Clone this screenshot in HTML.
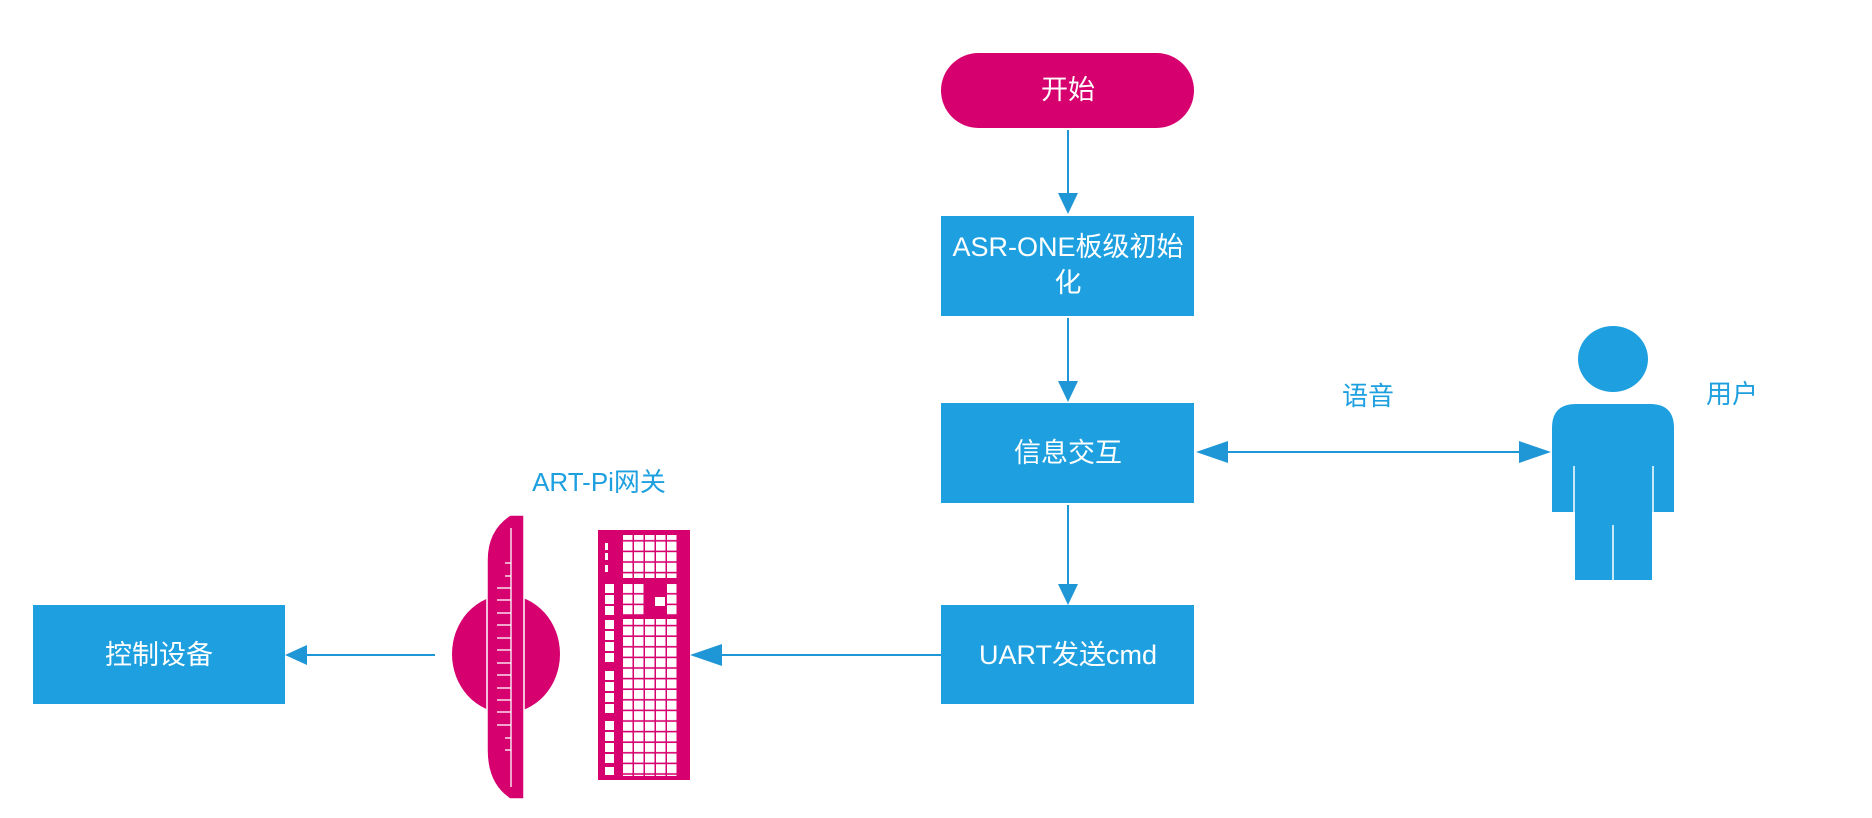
<!DOCTYPE html>
<html><head><meta charset="utf-8"><style>
html,body{margin:0;padding:0;background:#fff;}
body{width:1872px;height:818px;position:relative;overflow:hidden;font-family:"Liberation Sans","Noto Sans CJK SC",sans-serif;}
svg{position:absolute;left:0;top:0;}
text{font-family:"Liberation Sans","Noto Sans CJK SC",sans-serif;}
</style></head><body>
<svg width="1872" height="818" viewBox="0 0 1872 818">
<defs>
<pattern id="kg" x="622" y="0" width="11" height="10.6" patternUnits="userSpaceOnUse">
<rect x="0" y="0" width="11" height="10.6" fill="#d6006f"/>
<rect x="1" y="1" width="9.5" height="9" fill="#fff"/>
</pattern>
</defs>
<rect x="941" y="53" width="253" height="75" rx="37.5" fill="#d6006f"/>
<text x="1068" y="99" fill="#fff" font-size="27" text-anchor="middle">开始</text>
<rect x="941" y="216" width="253" height="100" fill="#1ea0e0"/>
<text x="1068" y="256" fill="#fff" font-size="27" text-anchor="middle">ASR-ONE板级初始</text>
<text x="1068" y="292" fill="#fff" font-size="27" text-anchor="middle">化</text>
<rect x="941" y="403" width="253" height="100" fill="#1ea0e0"/>
<text x="1068" y="462" fill="#fff" font-size="27" text-anchor="middle">信息交互</text>
<rect x="941" y="605" width="253" height="99" fill="#1ea0e0"/>
<text x="1068" y="664" fill="#fff" font-size="27" text-anchor="middle">UART发送cmd</text>
<rect x="33" y="605" width="252" height="99" fill="#1ea0e0"/>
<text x="159" y="664" fill="#fff" font-size="27" text-anchor="middle">控制设备</text>
<g stroke="#1f96d6" stroke-width="2" fill="none">
<line x1="1068" y1="130" x2="1068" y2="195"/>
<line x1="1068" y1="318" x2="1068" y2="383"/>
<line x1="1068" y1="505" x2="1068" y2="585"/>
<line x1="1224" y1="452" x2="1522" y2="452"/>
<line x1="941" y1="655" x2="720" y2="655"/>
<line x1="435" y1="655" x2="305" y2="655"/>
</g>
<g fill="#1f96d6">
<polygon points="1058,193 1078,193 1068,214"/>
<polygon points="1058,381 1078,381 1068,402"/>
<polygon points="1058,584 1078,584 1068,605"/>
<polygon points="1196,452 1228,441 1228,463"/>
<polygon points="1551,452 1519,441 1519,463"/>
<polygon points="690,655 722,644 722,666"/>
<polygon points="285,655 307,645 307,665"/>
</g>
<text x="1368" y="405" fill="#1ea0e0" font-size="26" text-anchor="middle">语音</text>
<text x="1732" y="403" fill="#1ea0e0" font-size="26" text-anchor="middle">用户</text>
<text x="599" y="491" fill="#1ea0e0" font-size="26" text-anchor="middle">ART-Pi网关</text>
<g fill="#1ea0e0">
<ellipse cx="1613" cy="359" rx="35" ry="33"/>
<path d="M1576,404 H1650 Q1674,404 1674,428 V512 H1652 V580 H1575 V512 H1552 V428 Q1552,404 1576,404 Z"/>
</g>
<g stroke="#fff" stroke-width="1.5">
<line x1="1574" y1="466" x2="1574" y2="513"/>
<line x1="1653" y1="466" x2="1653" y2="513"/>
<line x1="1613" y1="525" x2="1613" y2="581"/>
</g>
<ellipse cx="506" cy="654" rx="54" ry="59" fill="#d6006f"/>
<path d="M487,560 Q487,530 510,515 H524 V799 H510 Q487,784 487,750 Z" fill="#d6006f" stroke="#fff" stroke-width="1.5"/>
<g stroke="#fff" stroke-width="1.3">
<line x1="511" y1="528" x2="511" y2="787"/>
<line x1="505" y1="563" x2="511" y2="563"/><line x1="505" y1="576" x2="511" y2="576"/>
<line x1="497" y1="588" x2="511" y2="588"/><line x1="497" y1="600" x2="511" y2="600"/>
<line x1="497" y1="613" x2="511" y2="613"/><line x1="497" y1="625" x2="511" y2="625"/>
<line x1="497" y1="638" x2="511" y2="638"/><line x1="497" y1="650" x2="511" y2="650"/>
<line x1="497" y1="663" x2="511" y2="663"/><line x1="497" y1="675" x2="511" y2="675"/>
<line x1="497" y1="688" x2="511" y2="688"/><line x1="497" y1="700" x2="511" y2="700"/>
<line x1="497" y1="712" x2="511" y2="712"/><line x1="497" y1="725" x2="511" y2="725"/>
<line x1="505" y1="738" x2="511" y2="738"/><line x1="505" y1="750" x2="511" y2="750"/>
</g>
<rect x="598" y="530" width="92" height="250" fill="#d6006f"/>
<rect x="622" y="535" width="55" height="43" fill="url(#kg)"/>
<rect x="622" y="584" width="55" height="31" fill="url(#kg)"/>
<rect x="644" y="584" width="22" height="31" fill="#d6006f"/>
<rect x="655" y="597" width="10" height="9" fill="#fff"/>
<rect x="622" y="619" width="55" height="157" fill="url(#kg)"/>
<g fill="#fff">
<rect x="605" y="543" width="3" height="7"/><rect x="605" y="553" width="3" height="7"/><rect x="605" y="565" width="3" height="7"/>
<rect x="605" y="584" width="9" height="9"/><rect x="605" y="595" width="9" height="9"/><rect x="605" y="606" width="9" height="9"/>
<rect x="605" y="620" width="9" height="9"/><rect x="605" y="631" width="9" height="9"/><rect x="605" y="642" width="9" height="9"/><rect x="605" y="653" width="9" height="9"/>
<rect x="605" y="671" width="9" height="9"/><rect x="605" y="682" width="9" height="9"/><rect x="605" y="693" width="9" height="9"/><rect x="605" y="704" width="9" height="9"/>
<rect x="605" y="721" width="9" height="9"/><rect x="605" y="732" width="9" height="9"/><rect x="605" y="743" width="9" height="9"/><rect x="605" y="754" width="9" height="9"/>
<rect x="605" y="767" width="9" height="8"/>
</g>
</svg>
</body></html>
